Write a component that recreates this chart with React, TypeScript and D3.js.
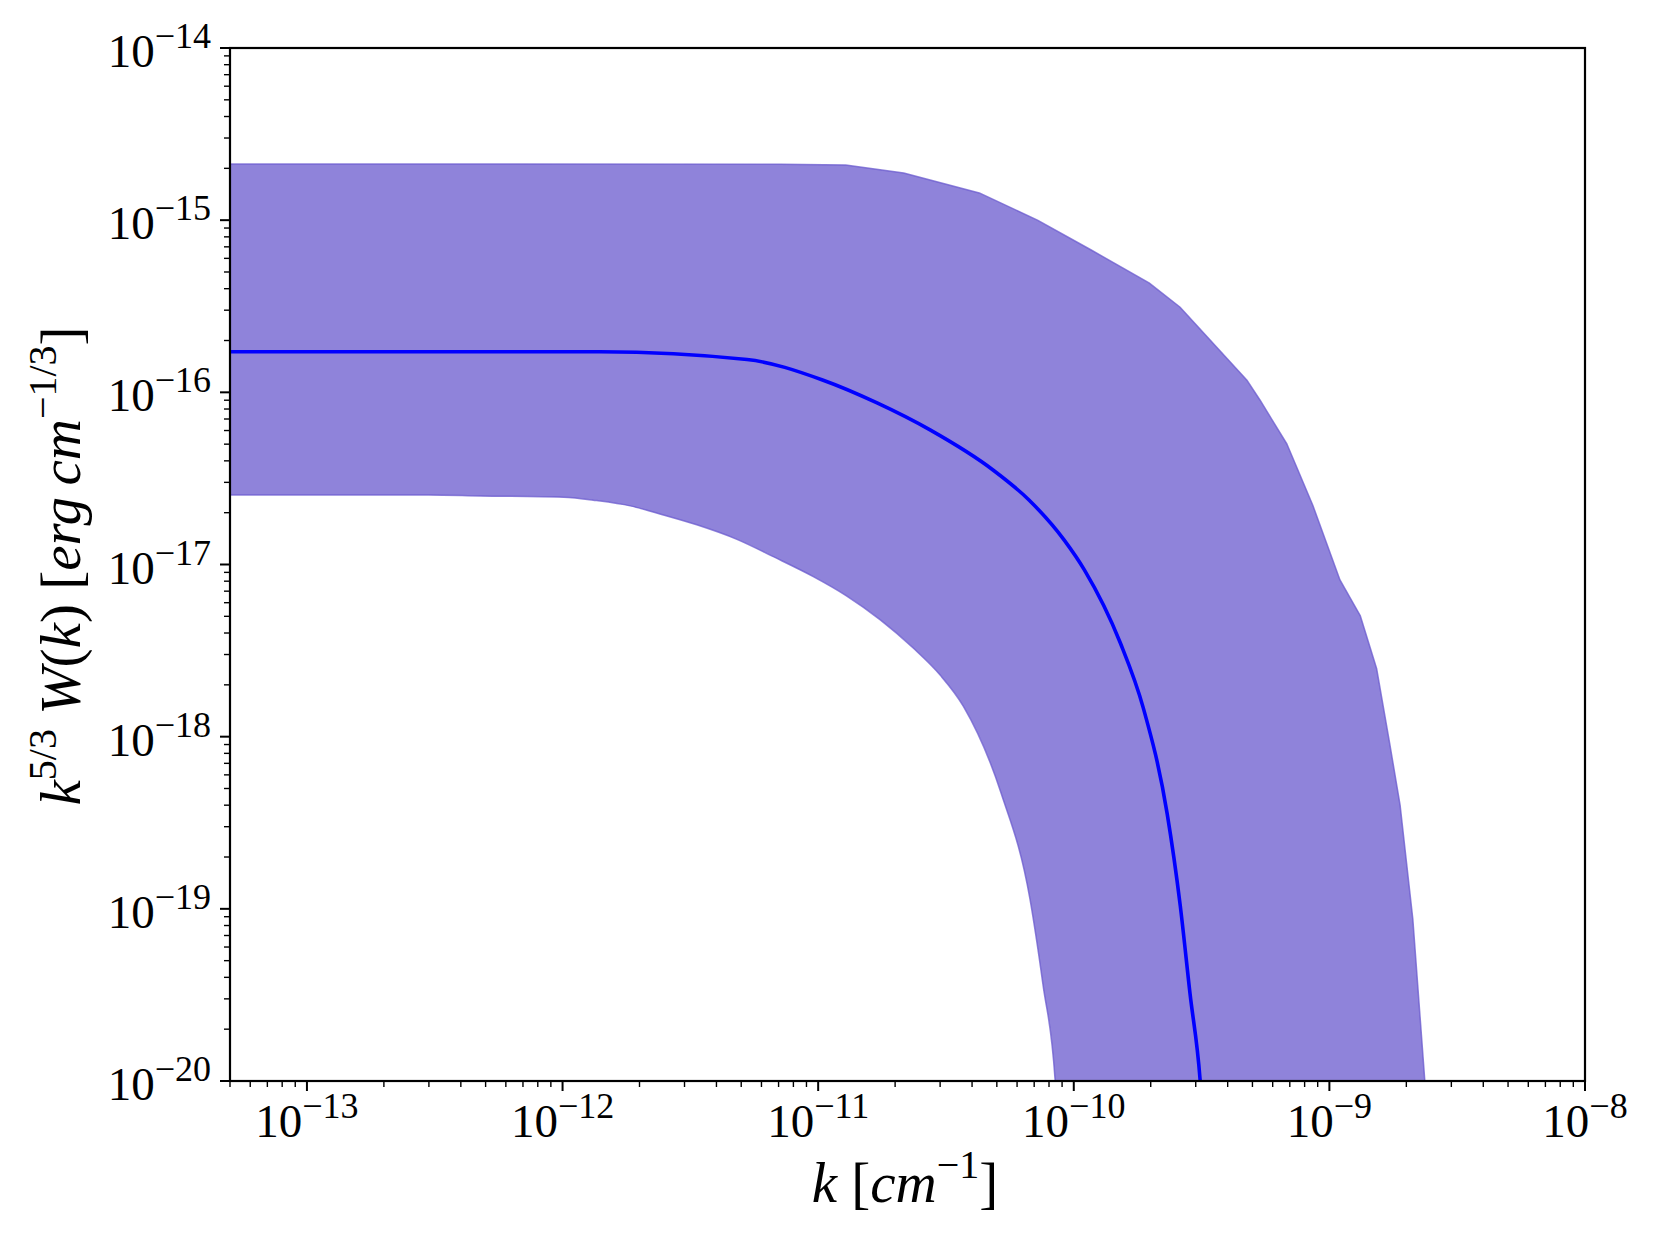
import React, { useEffect } from "react";
import * as d3 from "d3";

// ---- data ----
const kUpper = [5e-14, 5.7e-13, 7.1e-12, 1.28e-11, 2.16e-11, 4.27e-11, 7.21e-11, 1.17e-10, 1.97e-10, 2.6e-10, 4.75e-10, 5.35e-10, 6.82e-10, 8.62e-10, 1.1e-9, 1.32e-9, 1.53e-9, 1.72e-9, 1.89e-9, 2.12e-9, 2.36e-9, 2.45e-9];
const wUpper = [2.12e-15, 2.12e-15, 2.11e-15, 2.09e-15, 1.88e-15, 1.44e-15, 1.0e-15, 6.71e-16, 4.32e-16, 3.13e-16, 1.18e-16, 9.03e-17, 5.01e-17, 2.2e-17, 8.14e-18, 5.05e-18, 2.49e-18, 9.2e-19, 4.02e-19, 8.75e-20, 1.02e-20, 4e-21];

const kCenter = [5e-14, 1.4e-12, 5.27e-12, 1.04e-11, 1.7e-11, 2.74e-11, 4.83e-11, 6.68e-11, 9.16e-11, 1.1e-10, 1.52e-10, 1.87e-10, 2.32e-10, 2.61e-10, 2.85e-10, 3.12e-10, 3.2e-10];
const wCenter = [1.72e-16, 1.72e-16, 1.55e-16, 1.18e-16, 8.68e-17, 6.05e-17, 3.54e-17, 2.37e-17, 1.39e-17, 9.31e-18, 3.51e-18, 1.47e-18, 3.56e-19, 1.04e-19, 3.21e-20, 1.02e-20, 6e-21];

const kLower = [5e-14, 3e-13, 4.76e-13, 1.01e-12, 1.36e-12, 1.84e-12, 2.48e-12, 3.35e-12, 4.81e-12, 6.68e-12, 9.57e-12, 1.29e-11, 1.75e-11, 2.36e-11, 3.0e-11, 3.7e-11, 5.19e-11, 6.74e-11, 7.58e-11, 8.45e-11, 8.7e-11];
const wLower = [2.53e-17, 2.53e-17, 2.5e-17, 2.46e-17, 2.35e-17, 2.19e-17, 1.94e-17, 1.7e-17, 1.4e-17, 1.11e-17, 8.51e-18, 6.58e-18, 4.77e-18, 3.26e-18, 2.28e-18, 1.5e-18, 4.72e-19, 1.14e-19, 3.62e-20, 1.02e-20, 5e-21];

const xMajorExps = [-13, -12, -11, -10, -9, -8];
const yMajorExps = [-20, -19, -18, -17, -16, -15, -14];

const W = 1661;
const H = 1246;
const M = { left: 230, right: 1585, top: 48, bottom: 1081 };
const FONT = "'Liberation Serif', 'DejaVu Serif', serif";

export default function App() {
  useEffect(() => {
    document.body.style.margin = "0";
  }, []);

  const x = d3.scaleLog().domain([5e-14, 1e-8]).range([M.left, M.right]);
  const y = d3.scaleLog().domain([1e-20, 1e-14]).range([M.bottom, M.top]);

  const upperPts: [number, number][] = kUpper.map((k, i) => [k, wUpper[i]]);
  const lowerPts: [number, number][] = kLower.map((k, i) => [k, wLower[i]]);
  const centerPts: [number, number][] = kCenter.map((k, i) => [k, wCenter[i]]);

  const lineLin = d3
    .line<[number, number]>()
    .x((d) => x(d[0]))
    .y((d) => y(d[1]));
  const lineSmooth = d3
    .line<[number, number]>()
    .x((d) => x(d[0]))
    .y((d) => y(d[1]))
    .curve(d3.curveMonotoneX);

  const upperPath = lineLin(upperPts) || "";
  const lowerRevPath = (lineSmooth(lowerPts.slice().reverse()) || "").replace(/^M/, "L");
  const bandPath = upperPath + lowerRevPath + "Z";
  const centerPath = lineSmooth(centerPts) || "";

  const xMinor: number[] = [];
  for (let e = -14; e <= -9; e++) {
    for (let m = 2; m <= 9; m++) {
      const v = m * Math.pow(10, e);
      if (v >= 5e-14 * 0.999 && v <= 1e-8) xMinor.push(v);
    }
  }
  const yMinor: number[] = [];
  for (let e = -20; e <= -15; e++) {
    for (let m = 2; m <= 9; m++) yMinor.push(m * Math.pow(10, e));
  }

  return (
    <svg width={W} height={H} style={{ display: "block", background: "#fff" }} fontFamily={FONT}>
      <defs>
        <clipPath id="plotclip">
          <rect x={M.left} y={M.top} width={M.right - M.left} height={M.bottom - M.top} />
        </clipPath>
      </defs>
      <rect x={0} y={0} width={W} height={H} fill="#fff" />
      <g clipPath="url(#plotclip)">
        <path d={bandPath} fill="#6a5acd" fillOpacity={0.75} stroke="#6a5acd" strokeOpacity={0.75} strokeWidth={1.5} strokeLinejoin="round" />
        <path d={centerPath} fill="none" stroke="#0000ff" strokeWidth={3.6} strokeLinejoin="round" />
      </g>
      <rect x={M.left} y={M.top} width={M.right - M.left} height={M.bottom - M.top} fill="none" stroke="#000" strokeWidth={2.2} />

      {/* x ticks */}
      {xMinor.map((v, i) => (
        <line key={"xm" + i} x1={x(v)} x2={x(v)} y1={M.bottom} y2={M.bottom + 6} stroke="#000" strokeWidth={1.4} />
      ))}
      {xMajorExps.map((e) => {
        const px = x(Math.pow(10, e));
        return (
          <g key={"xM" + e}>
            <line x1={px} x2={px} y1={M.bottom} y2={M.bottom + 10} stroke="#000" strokeWidth={2} />
            <text x={px} y={1137} textAnchor="middle" fontSize={47} fill="#000">
              10
              <tspan dy={-19} fontSize={36}>{"\u2212" + Math.abs(e)}</tspan>
            </text>
          </g>
        );
      })}

      {/* y ticks */}
      {yMinor.map((v, i) => (
        <line key={"ym" + i} x1={M.left - 6} x2={M.left} y1={y(v)} y2={y(v)} stroke="#000" strokeWidth={1.4} />
      ))}
      {yMajorExps.map((e) => {
        const py = y(Math.pow(10, e));
        return (
          <g key={"yM" + e}>
            <line x1={M.left - 10} x2={M.left} y1={py} y2={py} stroke="#000" strokeWidth={2} />
            <text x={211} y={py + 19} textAnchor="end" fontSize={47} fill="#000">
              10
              <tspan dy={-19} fontSize={36}>{"\u2212" + Math.abs(e)}</tspan>
            </text>
          </g>
        );
      })}

      {/* x axis label */}
      <text x={905} y={1202} textAnchor="middle" fontSize={57} fill="#000">
        <tspan fontStyle="italic">k</tspan>
        <tspan>{"  ["}</tspan>
        <tspan fontStyle="italic">cm</tspan>
        <tspan dy={-24} fontSize={40}>{"\u22121"}</tspan>
        <tspan dy={24}>]</tspan>
      </text>

      {/* y axis label */}
      <text transform="translate(80,566) rotate(-90)" textAnchor="middle" fontSize={57} fill="#000">
        <tspan fontStyle="italic">k</tspan>
        <tspan dy={-24} fontSize={40}>5/3</tspan>
        <tspan dy={24} fontStyle="italic">{" W"}</tspan>
        <tspan>(</tspan>
        <tspan fontStyle="italic">k</tspan>
        <tspan>{")  ["}</tspan>
        <tspan fontStyle="italic">{"erg\u2009cm"}</tspan>
        <tspan dy={-24} fontSize={40}>{"\u22121/3"}</tspan>
        <tspan dy={24}>]</tspan>
      </text>
    </svg>
  );
}
